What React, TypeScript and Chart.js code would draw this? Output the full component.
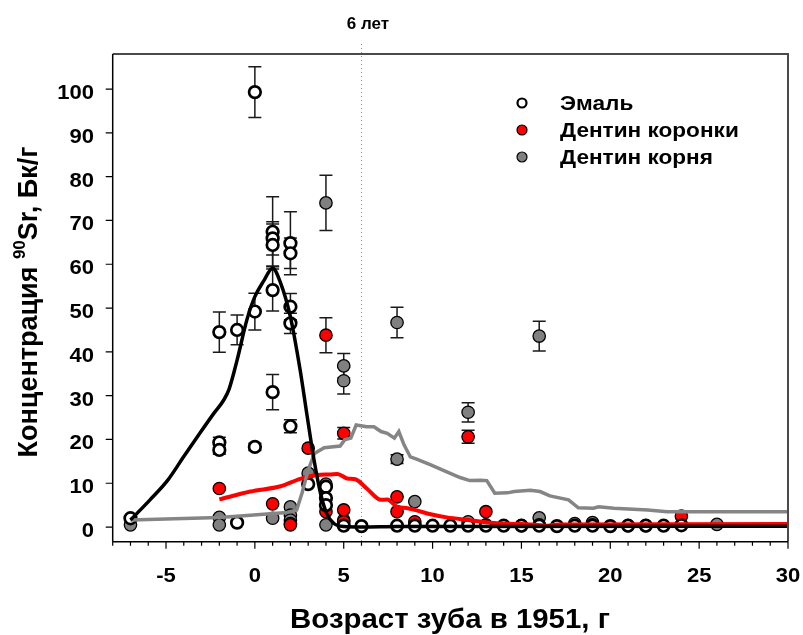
import React, { useEffect, useRef } from "react";
import { Chart, registerables } from "chart.js";

Chart.register(...registerables);

const FONT = '"Liberation Sans", Arial, Helvetica, sans-serif';

// Эмаль (open circles)
const enamelX = [-7, -2, -2, -2, -1, -1, 0, 0, 0, 1, 1, 1, 1, 1, 2, 2, 2, 2, 2, 3, 4, 4, 4, 5, 6, 8, 9, 10, 11, 12, 13, 14, 15, 16, 17, 18, 19, 20, 21, 22, 23, 24];
const enamelY = [2.0, 44.5, 19.3, 17.6, 45.0, 1.0, 99.3, 49.2, 18.3, 67.4, 65.9, 64.4, 54.1, 30.8, 64.8, 62.5, 50.3, 46.5, 23.0, 9.8, 9.2, 6.6, 5.0, 0.3, 0.2, 0.3, 0.3, 0.3, 0.3, 0.3, 0.3, 0.3, 0.3, 0.3, 0.2, 0.3, 0.3, 0.2, 0.3, 0.3, 0.3, 0.4];
const enamelErr = [0, 4.6, 1.2, 1.0, 3.4, 0, 5.8, 4.2, 0.8, 8.0, 3.8, 4.8, 4.8, 4.0, 7.2, 3.5, 3.0, 2.3, 1.5, 0, 0, 0, 0, 0, 0, 0, 0, 0, 0, 0, 0, 0, 0, 0, 0, 0, 0, 0, 0, 0, 0, 0];

// Дентин коронки (red)
const crownX = [-2, 1, 2, 3, 4, 4, 5, 5, 5, 8, 8, 9, 12, 13, 16, 19, 24];
const crownY = [8.8, 5.3, 0.5, 18.0, 43.8, 3.5, 21.4, 3.9, 1.2, 6.9, 3.5, 1.2, 20.6, 3.5, 0.5, 0.5, 2.5];
const crownErr = [0, 0, 0, 0, 4.0, 0, 1.3, 0, 0, 0, 0, 0, 1.5, 0, 0, 0, 0];

// Дентин корня (grey)
const rootX = [-7, -2, -2, 1, 2, 2, 2, 2, 3, 4, 4, 4, 5, 5, 5, 8, 8, 9, 12, 12, 13, 15, 16, 16, 18, 19, 21, 22, 24, 26];
const rootY = [0.5, 2.2, 0.5, 2.0, 4.6, 2.7, 1.6, 0.8, 12.3, 74.0, 9.8, 0.5, 36.8, 33.4, 1.6, 46.7, 15.5, 5.8, 26.2, 1.2, 0.5, 0.3, 43.6, 2.1, 0.8, 1.0, 0.3, 0.3, 0.5, 0.6];
const rootErr = [0, 0, 0, 0, 0, 0, 0, 0, 0, 6.3, 0, 0, 2.8, 3.0, 0, 3.5, 1.0, 0, 2.2, 0, 0, 0, 3.4, 0, 0, 0, 0, 0, 0, 0];

// Model curves
const enamelFitX = [-7, -5.9, -4.9, -4, -3.1, -2.3, -1.75, -1.45, -1, -0.45, 0, 0.5, 1, 1.45, 2, 2.55, 2.95, 3.3, 3.7, 4.05, 4.45, 5, 6, 8, 30];
const enamelFitY = [1.6, 6.2, 10.7, 16.1, 21.4, 26, 29, 31.5, 38.1, 47.3, 52.6, 56.2, 59.1, 55.7, 48, 35.8, 25.1, 16, 7.6, 3, 0.8, 0.1, 0.0, 0.1, 0.2];

const crownFitX = [-2, -0.25, 1.45, 2.55, 3.5, 4.2, 4.65, 5.2, 5.65, 6.3, 7.1, 7.45, 8, 8.6, 9.7, 10.8, 12, 13.45, 14.6, 15.5, 16.5, 17, 30];
const crownFitY = [6.3, 8.1, 9.3, 11.0, 11.9, 12.0, 12.1, 11.1, 10.9, 8.8, 6.2, 6.3, 4.6, 4.3, 3.1, 2.2, 1.6, 0.9, 0.7, 0.6, 0.3, 0.6, 0.7];

const rootFitX = [-7, -2, -0.25, 1.8, 2.35, 2.65, 3.0, 3.35, 3.9, 4.8, 5.05, 5.4, 5.7, 6.3, 6.7, 7.1, 7.45, 7.85, 8.1, 8.4, 8.75, 9.1, 9.9, 10.8, 11.55, 12.1, 12.7, 13.05, 13.5, 14.2, 14.6, 15.5, 16.05, 16.6, 17.65, 18.2, 19.05, 19.35, 20.2, 22.1, 23.2, 30];
const rootFitY = [1.6, 2.2, 2.7, 3.3, 3.9, 7.7, 13, 16.8, 18.1, 18.5, 19.9, 20.3, 23.3, 22.9, 22.9, 21.8, 21.4, 20.3, 21.8, 18.7, 16, 15.5, 14.2, 12.6, 11.3, 10.6, 10.7, 10.6, 7.7, 7.8, 8.1, 8.4, 8.1, 7.1, 6.2, 4.4, 4.3, 4.6, 4.3, 3.9, 3.5, 3.5];

// Axes
const X_MIN = -8;
const X_MAX = 30;
const Y_MIN = -3.35;
const Y_MAX = 108;
const xTickLabels = [-5, 0, 5, 10, 15, 20, 25, 30];
const yTickLabels = [0, 10, 20, 30, 40, 50, 60, 70, 80, 90, 100];
const MARK_X = 6;
const MARK_LABEL = "6 лет";

const X_TITLE = "Возраст зуба в 1951, г";
const Y_TITLE_A = "Концентрация ";
const Y_TITLE_SUP = "90";
const Y_TITLE_B = "Sr, Бк/г";

const legendItems = [
  { label: "Эмаль", fill: "#ffffff", open: true },
  { label: "Дентин коронки", fill: "#ff0000", open: false },
  { label: "Дентин корня", fill: "#808080", open: false },
];

const toPts = (xs: number[], ys: number[]) => xs.map((x, i) => ({ x, y: ys[i] }));

function drawText(
  ctx: CanvasRenderingContext2D,
  s: string,
  x: number,
  y: number,
  font: string,
  align: CanvasTextAlign,
  sx = 1,
  baseline: CanvasTextBaseline = "alphabetic"
) {
  ctx.save();
  ctx.font = font;
  ctx.translate(x, y);
  ctx.scale(sx, 1);
  ctx.textAlign = align;
  ctx.textBaseline = baseline;
  ctx.fillStyle = "#000";
  ctx.fillText(s, 0, 0);
  ctx.restore();
}

const errSets = [
  { xs: enamelX, ys: enamelY, es: enamelErr },
  { xs: crownX, ys: crownY, es: crownErr },
  { xs: rootX, ys: rootY, es: rootErr },
];

const decorPlugin = {
  id: "decor",
  beforeDatasetsDraw(chart: any) {
    const { ctx, chartArea } = chart;
    const xs = chart.scales.x;
    const ys = chart.scales.y;

    // dotted marker line
    ctx.save();
    ctx.strokeStyle = "#8a8a8a";
    ctx.lineWidth = 1;
    ctx.setLineDash([1, 3]);
    const mx = Math.round(xs.getPixelForValue(MARK_X)) + 0.5;
    ctx.beginPath();
    ctx.moveTo(mx, 44);
    ctx.lineTo(mx, chartArea.bottom);
    ctx.stroke();
    ctx.restore();

    // error bars
    ctx.save();
    ctx.strokeStyle = "#1a1a1a";
    ctx.lineWidth = 1.5;
    const cap = 6.5;
    for (const s of errSets) {
      s.xs.forEach((xv, i) => {
        const e = s.es[i];
        if (!e) return;
        const px = xs.getPixelForValue(xv);
        const top = ys.getPixelForValue(s.ys[i] + e);
        const bot = ys.getPixelForValue(s.ys[i] - e);
        ctx.beginPath();
        ctx.moveTo(px, top);
        ctx.lineTo(px, bot);
        ctx.moveTo(px - cap, top);
        ctx.lineTo(px + cap, top);
        ctx.moveTo(px - cap, bot);
        ctx.lineTo(px + cap, bot);
        ctx.stroke();
      });
    }
    ctx.restore();
  },
  afterDraw(chart: any) {
    const { ctx, chartArea } = chart;
    const xs = chart.scales.x;
    const ys = chart.scales.y;
    const { left, right, top, bottom } = chartArea;

    ctx.save();
    // top and right frame
    ctx.strokeStyle = "#4a4a4a";
    ctx.lineWidth = 2;
    ctx.beginPath();
    ctx.moveTo(left, top);
    ctx.lineTo(right, top);
    ctx.lineTo(right, bottom);
    ctx.stroke();
    // axes
    ctx.strokeStyle = "#000";
    ctx.lineWidth = 1.5;
    ctx.beginPath();
    ctx.moveTo(left, top);
    ctx.lineTo(left, bottom);
    ctx.moveTo(left, bottom);
    ctx.lineTo(right, bottom);
    ctx.stroke();

    // x ticks: minor every unit, major every 5
    ctx.lineWidth = 1.2;
    ctx.beginPath();
    for (let v = X_MIN; v <= X_MAX; v++) {
      const px = xs.getPixelForValue(v);
      const len = v % 5 === 0 ? 7 : 4;
      ctx.moveTo(px, bottom);
      ctx.lineTo(px, bottom + len);
    }
    // y ticks
    for (const v of yTickLabels) {
      const py = ys.getPixelForValue(v);
      ctx.moveTo(left, py);
      ctx.lineTo(left - 7, py);
    }
    ctx.stroke();
    ctx.restore();

    const tickFont = `bold 21px ${FONT}`;
    for (const v of xTickLabels) {
      drawText(ctx, String(v), xs.getPixelForValue(v), 582, tickFont, "center", 1.05);
    }
    for (const v of yTickLabels) {
      drawText(ctx, String(v), 94, ys.getPixelForValue(v) + 10, tickFont, "right", 1.05);
    }

    // x title
    drawText(ctx, X_TITLE, 450, 628, `bold 28px ${FONT}`, "center", 1.05);

    // y title (rotated, with superscript)
    ctx.save();
    const mainFont = `bold 27px ${FONT}`;
    const supFont = `bold 17px ${FONT}`;
    ctx.font = mainFont;
    const wA = ctx.measureText(Y_TITLE_A).width;
    const wB = ctx.measureText(Y_TITLE_B).width;
    ctx.font = supFont;
    const wS = ctx.measureText(Y_TITLE_SUP).width;
    const total = wA + wS + wB;
    ctx.translate(37, 302);
    ctx.rotate(-Math.PI / 2);
    ctx.fillStyle = "#000";
    ctx.textBaseline = "alphabetic";
    ctx.textAlign = "left";
    let cx = -total / 2;
    ctx.font = mainFont;
    ctx.fillText(Y_TITLE_A, cx, 0);
    cx += wA;
    ctx.font = supFont;
    ctx.fillText(Y_TITLE_SUP, cx, -12);
    cx += wS;
    ctx.font = mainFont;
    ctx.fillText(Y_TITLE_B, cx, 0);
    ctx.restore();

    // marker label
    drawText(ctx, MARK_LABEL, 368, 29, `bold 17px ${FONT}`, "center", 1);

    // legend
    const legY = [103, 130, 157];
    legendItems.forEach((it, i) => {
      ctx.save();
      ctx.beginPath();
      ctx.arc(522, legY[i], it.open ? 4.5 : 5, 0, Math.PI * 2);
      ctx.fillStyle = it.fill;
      ctx.fill();
      ctx.strokeStyle = "#000";
      ctx.lineWidth = it.open ? 2.2 : 1.2;
      ctx.stroke();
      ctx.restore();
      drawText(ctx, it.label, 560, legY[i] + 7, `bold 20px ${FONT}`, "left", 1.13);
    });
  },
};

export default function App() {
  const canvasRef = useRef<HTMLCanvasElement | null>(null);

  useEffect(() => {
    const canvas = canvasRef.current;
    if (!canvas) return;

    const chart = new Chart(canvas, {
      type: "scatter",
      data: {
        datasets: [
          {
            label: "enamel-fit",
            data: toPts(enamelFitX, enamelFitY),
            showLine: true,
            borderColor: "#000000",
            borderWidth: 3.5,
            pointRadius: 0,
            cubicInterpolationMode: "monotone",
            order: 0,
          },
          {
            label: "root-fit",
            data: toPts(rootFitX, rootFitY),
            showLine: true,
            borderColor: "#858585",
            borderWidth: 3.5,
            pointRadius: 0,
            tension: 0,
            order: 0,
          },
          {
            label: "crown-fit",
            data: toPts(crownFitX, crownFitY),
            showLine: true,
            borderColor: "#ff0000",
            borderWidth: 4,
            pointRadius: 0,
            cubicInterpolationMode: "monotone",
            order: 0,
          },
          {
            label: "Дентин корня",
            data: toPts(rootX, rootY),
            backgroundColor: "#808080",
            borderColor: "#000000",
            borderWidth: 1.3,
            pointRadius: 6.2,
            order: 3,
          },
          {
            label: "Дентин коронки",
            data: toPts(crownX, crownY),
            backgroundColor: "#ff0000",
            borderColor: "#000000",
            borderWidth: 1.3,
            pointRadius: 6.2,
            order: 2,
          },
          {
            label: "Эмаль",
            data: toPts(enamelX, enamelY),
            backgroundColor: "#ffffff",
            borderColor: "#000000",
            borderWidth: 2.7,
            pointRadius: 5.8,
            order: 1,
          },
        ],
      },
      options: {
        responsive: false,
        animation: false,
        devicePixelRatio: 1,
        layout: { padding: { left: 112.7, right: 15, top: 54, bottom: 93.3 } },
        plugins: { legend: { display: false }, tooltip: { enabled: false } },
        scales: {
          x: { type: "linear", min: X_MIN, max: X_MAX, display: false },
          y: { type: "linear", min: Y_MIN, max: Y_MAX, display: false },
        },
      },
      plugins: [decorPlugin],
    });

    return () => chart.destroy();
  }, []);

  return (
    <div style={{ position: "fixed", left: 0, top: 0, width: 803, height: 635, background: "#fff" }}>
      <canvas ref={canvasRef} width={803} height={635} style={{ display: "block" }} />
    </div>
  );
}
